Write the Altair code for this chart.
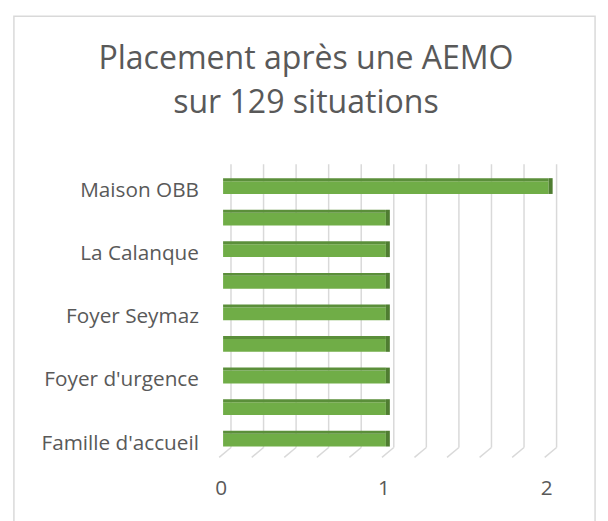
import json
import altair as alt
import pandas as pd

# ---- data ----
CATEGORIES = [
    "Maison OBB", "(catégorie 8)", "La Calanque", "(catégorie 6)",
    "Foyer Seymaz", "(catégorie 4)", "Foyer d'urgence", "(catégorie 2)",
    "Famille d'accueil",
]
VALUES = [2, 1, 1, 1, 1, 1, 1, 1, 1]
SHOWN_LABELS = ["Maison OBB", "La Calanque", "Foyer Seymaz", "Foyer d'urgence", "Famille d'accueil"]
GRID_VALUES = [0, 0.2, 0.4, 0.6, 0.8, 1.0, 1.2, 1.4, 1.6, 1.8, 2.0]
AXIS_LABELS = ["0", "1", "2"]
TITLE_LINES = ["Placement après une AEMO", "sur 129 situations"]

df = pd.DataFrame({"cat": CATEGORIES, "val": VALUES})
grid_df = pd.DataFrame({"g": GRID_VALUES})
tick_df = pd.DataFrame({"v": [float(s) for s in AXIS_LABELS], "lab": AXIS_LABELS})
title_df = pd.DataFrame({"t": ["\n".join(TITLE_LINES)]})

TEXT = "#595959"
FONT = "Open Sans"
GRID = "#D9D9D9"

W, H = 330, 288
PL, PT = 218, 161

xscale = alt.Scale(domain=[0, 2], nice=False, zero=True)
yscale = alt.Scale(paddingInner=0, paddingOuter=0)
label_expr = "indexof(" + json.dumps(SHOWN_LABELS) + ", datum.value) >= 0 ? datum.value : ''"

yaxis = alt.Axis(
    title=None, domain=False, ticks=False, labelExpr=label_expr,
    labelFont=FONT, labelFontSize=21, labelColor=TEXT,
    labelPadding=25, labelOffset=5, labelLimit=300,
)
xaxis = alt.Axis(values=[0, 1, 2], title=None, domain=False, ticks=False,
                 grid=False, labels=False)


def X(field):
    return alt.X(field, scale=xscale, axis=xaxis)


yenc = alt.Y("cat:N", sort=CATEGORIES, scale=yscale, axis=yaxis)

border = alt.Chart(title_df).mark_rect(
    fill=None, stroke=GRID, strokeWidth=1.5, clip=False
).encode(
    x=alt.value(6 - PL), x2=alt.value(595 - PL), y=alt.value(5 - PT), y2=alt.value(360)
)

grid_v = alt.Chart(grid_df).mark_rule(color=GRID, strokeWidth=1.5, xOffset=8).encode(
    x=X("g:Q"), y=alt.value(-6), y2=alt.value(281),
)
grid_s = alt.Chart(grid_df).mark_rule(
    color=GRID, strokeWidth=1.5, xOffset=8, x2Offset=-4
).encode(
    x=X("g:Q"), x2="g:Q", y=alt.value(281), y2=alt.value(291),
)

body = alt.Chart(df).mark_bar(color="#70AD47", height=13, yOffset=1.5, opacity=1).encode(
    x=X("val:Q"), y=yenc,
)
top_face = alt.Chart(df).mark_bar(color="#5B8F3A", height=3, yOffset=-6.5, opacity=1).encode(
    x=X("val:Q"), y=yenc,
)
side_face = alt.Chart(df).mark_tick(
    color="#4F7D31", thickness=4, size=16, xOffset=2, orient="vertical", opacity=1
).encode(
    x=X("val:Q"), y=yenc,
)

xlabels = alt.Chart(tick_df).mark_text(
    font=FONT, fontSize=21, color=TEXT, align="center", baseline="alphabetic", dx=-2
).encode(x=X("v:Q"), y=alt.value(329), text="lab:N")

title = alt.Chart(title_df).mark_text(
    font=FONT, fontSize=32.5, color=TEXT, lineBreak="\n", lineHeight=45,
    align="center", baseline="alphabetic",
).encode(text="t:N", x=alt.value(302 - PL), y=alt.value(-103))

chart = alt.layer(border, grid_v, grid_s, body, top_face, side_face, xlabels, title).properties(
    width=W, height=H,
    autosize=alt.AutoSizeParams(type="none"),
    padding={"left": PL, "top": PT, "right": 600 - PL - W, "bottom": 513 - PT - H},
    background="white",
).configure_view(stroke=None).configure_axis(labelOverlap=False)

chart.save("out.html", embed_options={"renderer": "svg", "actions": False})
